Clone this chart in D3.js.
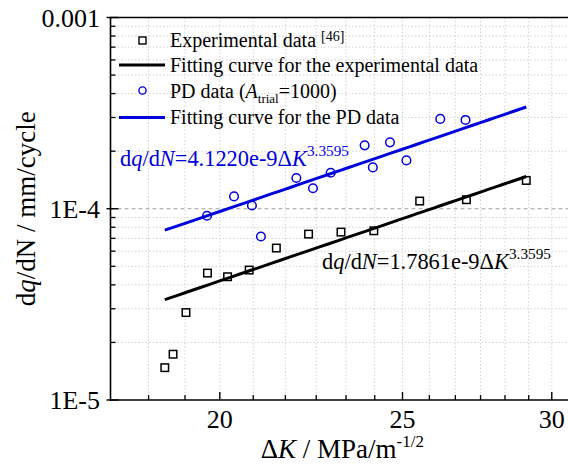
<!DOCTYPE html>
<html>
<head>
<meta charset="utf-8">
<script src="https://cdn.jsdelivr.net/npm/d3@7"></script>
<style>
  html, body { margin: 0; padding: 0; background: #fff; }
  svg { display: block; font-family: "Liberation Serif", "Times New Roman", serif; }
</style>
</head>
<body>
<svg id="chart" width="568" height="466"></svg>
<script>
// Crack growth rate dq/dN versus stress intensity range ΔK
const dK_exp   = [18.70, 18.89, 19.19, 19.70, 20.19, 20.73, 21.43, 22.29, 23.19, 24.14, 25.53, 27.03, 29.08];
const rate_exp = [1.476e-5, 1.735e-5, 2.865e-5, 4.61e-5, 4.41e-5, 4.78e-5, 6.23e-5, 7.37e-5, 7.55e-5, 7.67e-5, 1.097e-4, 1.115e-4, 1.406e-4];

const dK_pd   = [19.69, 20.35, 20.80, 21.03, 21.96, 22.41, 22.90, 23.87, 24.11, 24.62, 25.12, 26.18, 27.00];
const rate_pd = [9.19e-5, 1.160e-4, 1.040e-4, 7.16e-5, 1.448e-4, 1.280e-4, 1.543e-4, 2.145e-4, 1.645e-4, 2.224e-4, 1.790e-4, 2.949e-4, 2.913e-4];

// Paris-law fits: dq/dN = C * ΔK^m
const C_exp = 1.7861e-9;
const C_pd  = 4.1220e-9;
const m_exp = 3.3595;

const xMajorTicks = [20, 25, 30];
const xTickLabels = ["20", "25", "30"];
const yMajorTicks = [1e-5, 1e-4, 1e-3];
const yTickLabels = ["1E-5", "1E-4", "0.001"];

const BLUE = "#0000dd";

const svg = d3.select("#chart");
const pLeft = 110.5, pRight = 574.2, pTop = 17.5, pBottom = 400;

const x = d3.scaleLog().domain([17.5, 30.8333]).range([pLeft, pRight]);
const y = d3.scaleLog().domain([1e-5, 1e-3]).range([pBottom, pTop]);

// minor ticks on x every 5/6 unit, on y at 2..9 per decade
const xMinor = d3.range(0, 17).map(k => 17.5 + k * 5 / 6)
  .filter(v => v > 17.6 && v < 30.8 && !xMajorTicks.some(t => Math.abs(t - v) < 1e-6));
const yMinor = [];
[1e-5, 1e-4].forEach(d => { for (let k = 2; k <= 9; k++) yMinor.push(k * d); });

// grid
const grid = svg.append("g");
grid.selectAll("line.vx").data(xMinor.concat(xMajorTicks)).join("line")
  .attr("x1", d => x(d)).attr("x2", d => x(d))
  .attr("y1", pTop).attr("y2", pBottom)
  .attr("stroke", "#d2d2d2").attr("stroke-width", 1).attr("stroke-dasharray", "1.5,2");
grid.selectAll("line.hy").data(yMinor).join("line")
  .attr("x1", pLeft).attr("x2", 568)
  .attr("y1", d => y(d)).attr("y2", d => y(d))
  .attr("stroke", "#d2d2d2").attr("stroke-width", 1).attr("stroke-dasharray", "1.5,2");
grid.append("line")
  .attr("x1", pLeft).attr("x2", 568)
  .attr("y1", y(1e-4)).attr("y2", y(1e-4))
  .attr("stroke", "#a0a0a0").attr("stroke-width", 1).attr("stroke-dasharray", "4,3");

// axes frame
const ax = svg.append("g").attr("stroke", "#000").attr("stroke-width", 1.6);
ax.append("line").attr("x1", pLeft).attr("x2", pLeft).attr("y1", pTop).attr("y2", pBottom + 0.8);
ax.append("line").attr("x1", pLeft - 0.8).attr("x2", 568).attr("y1", pBottom).attr("y2", pBottom);
ax.append("line").attr("x1", pLeft - 0.8).attr("x2", 568).attr("y1", pTop).attr("y2", pTop);

// x ticks (inward)
ax.selectAll("line.xt").data(xMinor).join("line")
  .attr("x1", d => x(d)).attr("x2", d => x(d)).attr("y1", pBottom).attr("y2", pBottom - 5).attr("stroke-width", 1.3);
ax.selectAll("line.xT").data(xMajorTicks).join("line")
  .attr("x1", d => x(d)).attr("x2", d => x(d)).attr("y1", pBottom).attr("y2", pBottom - 8).attr("stroke-width", 1.4);
// y ticks (inward)
ax.selectAll("line.yt").data(yMinor).join("line")
  .attr("x1", pLeft).attr("x2", pLeft + 5).attr("y1", d => y(d)).attr("y2", d => y(d)).attr("stroke-width", 1.3);
ax.selectAll("line.yT").data(yMajorTicks).join("line")
  .attr("x1", pLeft - 4).attr("x2", pLeft + 8).attr("y1", d => y(d)).attr("y2", d => y(d)).attr("stroke-width", 1.4);

// tick labels
svg.selectAll("text.xl").data(xMajorTicks).join("text")
  .attr("x", d => x(d)).attr("y", 428)
  .attr("text-anchor", "middle").attr("font-size", 26).attr("fill", "#000")
  .text((d, i) => xTickLabels[i]);
svg.selectAll("text.yl").data(yMajorTicks).join("text")
  .attr("x", 100).attr("y", d => y(d) + 9)
  .attr("text-anchor", "end").attr("font-size", 26).attr("fill", "#000")
  .text((d, i) => yTickLabels[i]);

// axis titles
const xt = svg.append("text").attr("x", (pLeft + pRight) / 2).attr("y", 458)
  .attr("text-anchor", "middle").attr("font-size", 27).attr("fill", "#000");
xt.append("tspan").text("Δ");
xt.append("tspan").attr("font-style", "italic").text("K");
xt.append("tspan").text(" / MPa/m");
xt.append("tspan").attr("font-size", 17).attr("dy", -11).text("-1/2");

const yt = svg.append("text")
  .attr("transform", `translate(35,${(pTop + pBottom) / 2}) rotate(-90)`)
  .attr("text-anchor", "middle").attr("font-size", 27).attr("fill", "#000");
yt.append("tspan").text("d");
yt.append("tspan").attr("font-style", "italic").text("q");
yt.append("tspan").text("/dN / mm/cycle");

// fitted curves over the experimental ΔK range
const kRange = d3.extent(dK_exp);
const kSamples = d3.range(0, 41).map(i => kRange[0] + (kRange[1] - kRange[0]) * i / 40);
const line = d3.line().x(d => x(d[0])).y(d => y(d[1]));
svg.append("path")
  .attr("d", line(kSamples.map(k => [k, C_exp * Math.pow(k, m_exp)])))
  .attr("fill", "none").attr("stroke", "#000").attr("stroke-width", 3);
svg.append("path")
  .attr("d", line(kSamples.map(k => [k, C_pd * Math.pow(k, m_exp)])))
  .attr("fill", "none").attr("stroke", BLUE).attr("stroke-width", 3);

// markers
const sq = 7.5;
svg.selectAll("rect.exp").data(dK_exp.map((k, i) => [k, rate_exp[i]])).join("rect")
  .attr("x", d => x(d[0]) - sq / 2).attr("y", d => y(d[1]) - sq / 2)
  .attr("width", sq).attr("height", sq)
  .attr("fill", "none").attr("stroke", "#000").attr("stroke-width", 1.5);
svg.selectAll("circle.pd").data(dK_pd.map((k, i) => [k, rate_pd[i]])).join("circle")
  .attr("cx", d => x(d[0])).attr("cy", d => y(d[1])).attr("r", 4.3)
  .attr("fill", "none").attr("stroke", BLUE).attr("stroke-width", 1.5);

// fit equations
function equation(g, px, py, coef, color) {
  const t = g.append("text").attr("x", px).attr("y", py).attr("font-size", 22.4).attr("fill", color);
  t.append("tspan").text("d");
  t.append("tspan").attr("font-style", "italic").text("q");
  t.append("tspan").text("/d");
  t.append("tspan").attr("font-style", "italic").text("N");
  t.append("tspan").text("=" + coef + "Δ");
  t.append("tspan").attr("font-style", "italic").text("K");
  t.append("tspan").attr("font-size", 15.3).attr("dy", -10).text(m_exp.toFixed(4));
}
equation(svg, 120, 166, C_pd.toExponential(4), BLUE);
equation(svg, 322, 268.5, C_exp.toExponential(4), "#000");

// legend
const lg = svg.append("g").attr("font-size", 20).attr("fill", "#000");
const lx = 170;
lg.append("rect").attr("x", 142.5 - 3.5).attr("y", 40.5 - 3.5).attr("width", 7).attr("height", 7)
  .attr("fill", "none").attr("stroke", "#000").attr("stroke-width", 1.4);
const t1 = lg.append("text").attr("x", lx).attr("y", 47);
t1.append("tspan").text("Experimental data ");
t1.append("tspan").attr("font-size", 14).attr("dy", -6).text("[46]");

lg.append("line").attr("x1", 119).attr("x2", 165).attr("y1", 65).attr("y2", 65)
  .attr("stroke", "#000").attr("stroke-width", 3);
lg.append("text").attr("x", lx).attr("y", 72).text("Fitting curve for the experimental data");

lg.append("circle").attr("cx", 142.5).attr("cy", 90.5).attr("r", 3.6)
  .attr("fill", "none").attr("stroke", BLUE).attr("stroke-width", 1.4);
const t3 = lg.append("text").attr("x", lx).attr("y", 97.5);
t3.append("tspan").text("PD data (");
t3.append("tspan").attr("font-style", "italic").text("A");
t3.append("tspan").attr("font-size", 13).attr("dy", 5).text("trial");
t3.append("tspan").attr("dy", -5).text("=1000)");

lg.append("line").attr("x1", 119).attr("x2", 165).attr("y1", 117.5).attr("y2", 117.5)
  .attr("stroke", BLUE).attr("stroke-width", 3);
lg.append("text").attr("x", lx).attr("y", 124).text("Fitting curve for the PD data");
</script>
</body>
</html>
